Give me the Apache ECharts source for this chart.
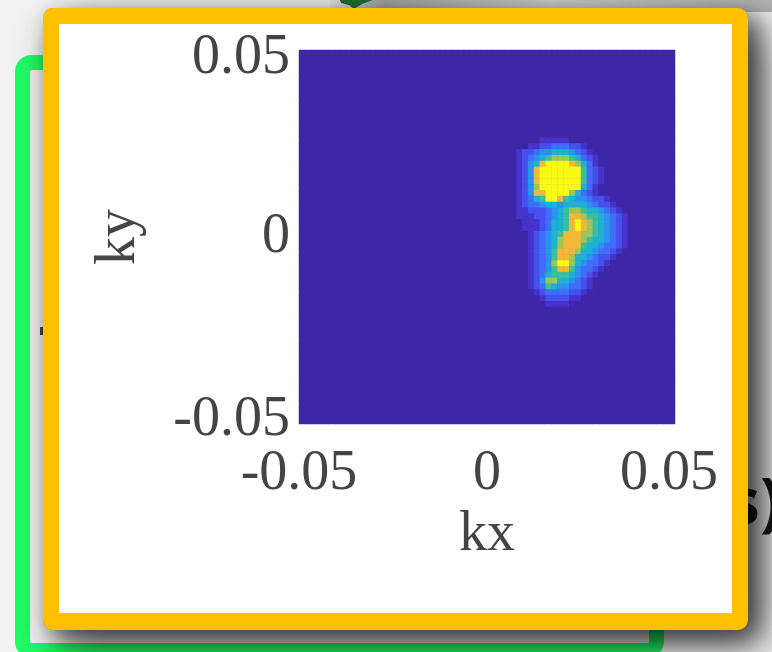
<!DOCTYPE html>
<html><head><meta charset="utf-8">
<script src="https://cdn.jsdelivr.net/npm/echarts@6/dist/echarts.min.js"></script>
<style>html,body{margin:0;padding:0;background:#f3f3f3;}#c{width:772px;height:652px;}</style>
</head><body><div id="c"></div>
<script>
// ---- data ----
const gridSize = 64;                 // cells per side (kx, ky from -0.05 to 0.05)
const tickValues = [-0.05, 0, 0.05];
const xName = 'kx';
const yName = 'ky';
const blobRowStart = 15;             // first row (from top) of the non-zero region
const blobColStart = 36;             // first column of the non-zero region
// intensity levels 0..9 (0 = background, 9 = peak)
const blobRows = [
  "000001111100000000000",
  "000112233322100000000",
  "012234455543210000000",
  "012345677765321000000",
  "012458999987531000000",
  "012489999999632100000",
  "012489999999632100000",
  "012489999999632100000",
  "012479999999531000000",
  "012488999975321000000",
  "012356998654432210000",
  "012334554555543221000",
  "011222345677655432100",
  "011122345688766543210",
  "001112355689876543210",
  "001112355689876543210",
  "000123456888776543210",
  "000123457888765543210",
  "000123457888655433210",
  "000123468887554332100",
  "000123468875543221000",
  "000123479975433210000",
  "000123468864332100000",
  "000123566654321000000",
  "000124775543210000000",
  "000123654433210000000",
  "000012333322100000000",
  "000001222211000000000",
  "000000111100000000000"
];

// ---- build heatmap cells ----
const cats = [];
for (let i = 0; i < gridSize; i++) cats.push(i);
const cells = [];
for (let r = 0; r < gridSize; r++) {
  for (let c = 0; c < gridSize; c++) {
    let v = 0;
    const br = r - blobRowStart, bc = c - blobColStart;
    if (br >= 0 && br < blobRows.length && bc >= 0 && bc < blobRows[br].length) {
      v = +blobRows[br][bc];
    }
    cells.push([c, r, v]);
  }
}

const G = {left: 299, top: 50, width: 376, height: 374};
const labelFont = {fontFamily: 'Liberation Serif', fontSize: 56, color: '#444'};
const fmt = v => (Math.abs(v) < 1e-9 ? '0' : String(Math.round(v * 100) / 100));
const frameShape = {x: 43, y: 8, width: 705, height: 622, r: 10};

const chart = echarts.init(document.getElementById('c'), null, {renderer: 'canvas'});
chart.setOption({
  animation: false,
  backgroundColor: 'transparent',
  graphic: [
    // top shaded strip
    {type: 'rect', z: -20, shape: {x: 330, y: 0, width: 442, height: 12},
      style: {fill: new echarts.graphic.LinearGradient(0, 0, 1, 0, [
        {offset: 0, color: 'rgba(0,0,0,0.03)'},
        {offset: 0.12, color: 'rgba(0,0,0,0.32)'},
        {offset: 0.5, color: 'rgba(0,0,0,0.14)'},
        {offset: 1, color: 'rgba(0,0,0,0.26)'}])}},
    // dark green shape at top
    {type: 'polygon', z: -19, shape: {points: [[340, 0], [373, 0], [362, 4], [354, 9], [349, 5], [341, 3]]},
      style: {fill: '#1b6f35'}},
    // green frame behind
    {type: 'rect', z: -18, shape: {x: 22.5, y: 62.5, width: 634, height: 588, r: 9},
      style: {fill: null, stroke: '#20fd66', lineWidth: 15}},
    // small mark
    {type: 'rect', z: -18, shape: {x: 40, y: 327, width: 3, height: 8}, style: {fill: '#444'}},
    // partially hidden text
    {type: 'text', z: -17, style: {text: 's)', x: 728, y: 474, fill: '#161616',
      font: 'bold 64px "Open Sans", "DejaVu Sans", sans-serif'}},
    // hidden body (same shape as the frame) casting a wide soft shadow
    {type: 'rect', z: -16, shape: frameShape,
      style: {fill: '#888', shadowBlur: 44, shadowOffsetX: 16, shadowOffsetY: 16, shadowColor: 'rgba(0,0,0,0.6)'}},
    // orange frame with shadow
    {type: 'rect', z: -15, shape: frameShape,
      style: {fill: '#ffc000', shadowBlur: 22, shadowOffsetX: 9, shadowOffsetY: 9, shadowColor: 'rgba(0,0,0,0.5)'}},
    {type: 'rect', z: -14, shape: {x: 59, y: 24, width: 673, height: 589},
      style: {fill: '#ffffff'}}
  ],
  grid: [
    Object.assign({show: true, backgroundColor: '#3e26a8', borderWidth: 0}, G),
    Object.assign({show: false}, G)
  ],
  xAxis: [
    {type: 'category', gridIndex: 0, data: cats, show: false},
    {type: 'value', gridIndex: 1, min: tickValues[0], max: tickValues[2], interval: 0.05,
      axisLine: {show: false}, axisTick: {show: false}, splitLine: {show: false},
      axisLabel: Object.assign({margin: 22, formatter: v => v >= 0.049 ? '{r|' + fmt(v) + '}' : fmt(v),
        rich: {r: Object.assign({padding: [0, 12, 0, 0]}, labelFont)}}, labelFont),
      name: xName, nameLocation: 'middle', nameGap: 78,
      nameTextStyle: labelFont}
  ],
  yAxis: [
    {type: 'category', gridIndex: 0, data: cats, show: false, inverse: true},
    {type: 'value', gridIndex: 1, min: tickValues[0], max: tickValues[2], interval: 0.05,
      axisLine: {show: false}, axisTick: {show: false}, splitLine: {show: false},
      axisLabel: Object.assign({margin: 9, formatter: v => v >= 0.049 ? '{t|' + fmt(v) + '}' : (v <= -0.049 ? '{b|' + fmt(v) + '}' : fmt(v)),
        rich: {t: Object.assign({padding: [16, 0, 0, 0]}, labelFont), b: Object.assign({padding: [0, 0, 8, 0]}, labelFont)}}, labelFont),
      name: yName, nameLocation: 'middle', nameGap: 152,
      nameTextStyle: labelFont}
  ],
  visualMap: {show: false, type: 'continuous', min: 0, max: 9, dimension: 2, seriesIndex: 0,
    inRange: {color: ['#3e26a8', '#4633c9', '#4650ec', '#3f6ff8', '#2b93ee', '#1eb2d2', '#3cbf9c', '#9cc55a', '#f3b83a', '#f9fb15']}},
  series: [{
    type: 'heatmap', xAxisIndex: 0, yAxisIndex: 0, data: cells,
    progressive: 0, itemStyle: {borderWidth: 0}, emphasis: {disabled: true}
  }]
});
</script>
</body></html>
